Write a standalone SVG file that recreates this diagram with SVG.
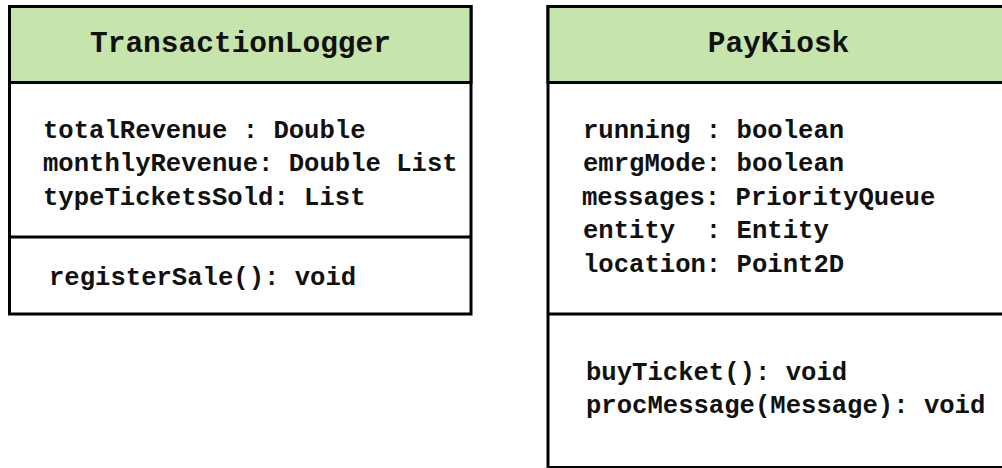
<svg xmlns="http://www.w3.org/2000/svg" width="1002" height="468" viewBox="0 0 1002 468">
<style>
.box{fill:#ffffff;stroke:#000000;stroke-width:3}
.head{fill:#c5e5ac;stroke:#000000;stroke-width:3}
.sep{stroke:#000000;stroke-width:3}
.title{font-family:"Liberation Mono","Courier New",monospace;font-weight:bold;font-size:29.5px;fill:#111111;text-anchor:middle}
.txt{font-family:"Liberation Mono","Courier New",monospace;font-weight:bold;font-size:25.6px;fill:#111111;white-space:pre}
</style>
<rect width="1002" height="468" fill="#ffffff"/>
<g id="TransactionLogger">
<rect class="box" x="9.5" y="6.5" width="461.5" height="307.5"/>
<rect class="head" x="9.5" y="6.5" width="461.5" height="76"/>
<line class="sep" x1="9.5" y1="237" x2="471" y2="237"/>
<text class="title" x="240.5" y="51.5">TransactionLogger</text>
<text class="txt" x="43" y="137.5">totalRevenue : Double</text>
<text class="txt" x="43" y="171">monthlyRevenue: Double List</text>
<text class="txt" x="43" y="204.5">typeTicketsSold: List</text>
<text class="txt" x="49" y="285">registerSale(): void</text>
</g>
<g id="PayKiosk">
<rect class="box" x="548" y="6.5" width="470" height="461"/>
<rect class="head" x="548" y="6.5" width="470" height="76"/>
<line class="sep" x1="548" y1="314" x2="1010" y2="314"/>
<text class="title" x="778.5" y="51.5">PayKiosk</text>
<text class="txt" x="583" y="137.5">running : boolean</text>
<text class="txt" x="583" y="171">emrgMode: boolean</text>
<text class="txt" x="582" y="204.5">messages: PriorityQueue</text>
<text class="txt" x="583" y="238" xml:space="preserve">entity  : Entity</text>
<text class="txt" x="583" y="271.5">location: Point2D</text>
<text class="txt" x="586" y="380">buyTicket(): void</text>
<text class="txt" x="586" y="413">procMessage(Message): void</text>
</g>
<g id="connectors"></g>
</svg>
